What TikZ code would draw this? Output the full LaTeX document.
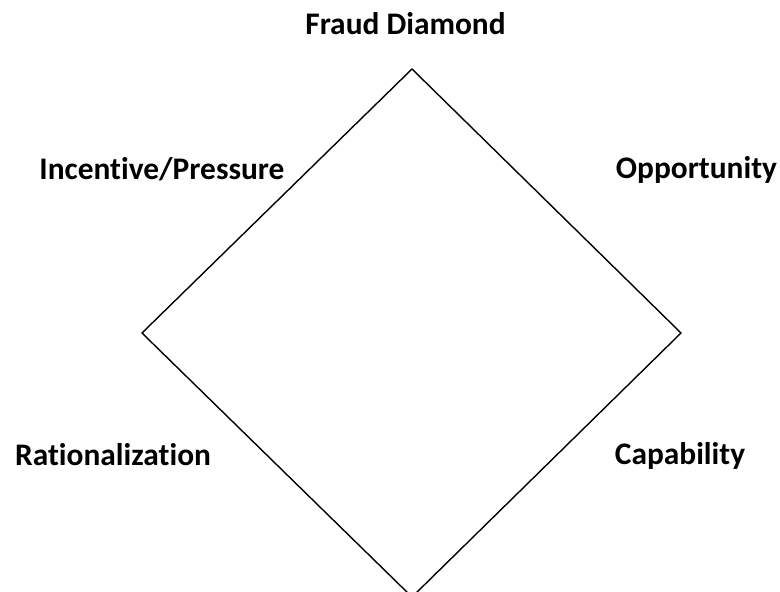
\documentclass[tikz,border=0pt]{standalone}
\usepackage{fontspec}
\setmainfont{Carlito}[Ligatures=NoCommon]
\begin{document}
\begin{tikzpicture}[x=1pt,y=-1pt,
  lbl/.style={font=\fontsize{31.4}{36}\selectfont\bfseries, anchor=base, inner sep=0pt},
  edge/.style={draw=black, line width=1.4pt, line join=miter}]
\useasboundingbox (0,0) rectangle (780,592);
\clip (0,0) rectangle (780,592);
\coordinate (top) at (412,69);
\coordinate (right) at (681,333);
\coordinate (bottom) at (412,597);
\coordinate (left) at (142,333);
\draw[edge] (top) -- (right) -- (bottom) -- (left) -- cycle;
\node[lbl] (title) at (405.5,34) {Fraud Diamond};
\node[lbl] (inc) at (162,179) {Incentive/Pressure};
\node[lbl] (opp) at (696.5,178) {Opportunity};
\node[lbl] (rat) at (113,465) {Rationalization};
\node[lbl] (cap) at (680,464) {Capability};
\end{tikzpicture}
\end{document}
